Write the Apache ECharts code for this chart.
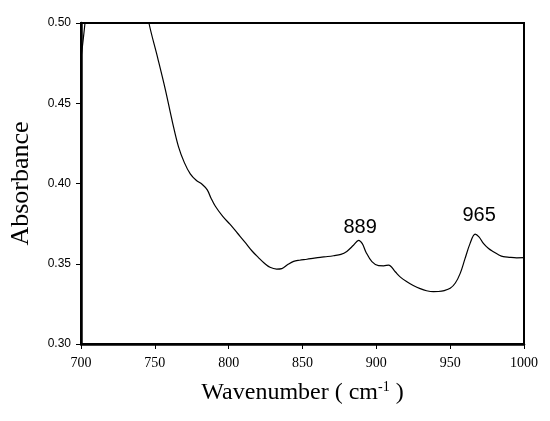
<!DOCTYPE html>
<html>
<head>
<meta charset="utf-8">
<script src="https://cdn.jsdelivr.net/npm/echarts@6/dist/echarts.min.js"></script>
<style>
  html, body { margin: 0; padding: 0; background: #fff; }
  #chart { width: 550px; height: 421px; }
</style>
</head>
<body>
<div id="chart"></div>
<script>
// spectrum (values above 0.50 are off the plot and get clipped)
var wavenumber = [700, 702.7, 705, 715, 730, 740, 746, 752, 757, 762, 766, 770, 774, 778, 782, 785.5, 788, 791, 796, 801, 806, 811, 816, 820, 824, 828, 832.5, 836, 840, 844, 848, 853, 858, 862, 867, 871, 876, 880, 884.5, 888, 890.5, 893, 897, 901.5, 905, 908.3, 912.8, 916.5, 920.7, 925, 929.7, 934, 938.7, 942, 946, 950, 953.5, 956.8, 960, 963.5, 966.9, 969.5, 972.5, 976, 979.3, 983, 986, 990, 995, 1000];
var absorbance = [0.478, 0.5, 0.525, 0.56, 0.56, 0.53, 0.5, 0.478, 0.459, 0.438, 0.423, 0.413, 0.406, 0.402, 0.3995, 0.396, 0.391, 0.3858, 0.3795, 0.3745, 0.369, 0.3635, 0.3578, 0.354, 0.3505, 0.3478, 0.3467, 0.347, 0.3495, 0.3515, 0.3522, 0.3528, 0.3535, 0.354, 0.3545, 0.355, 0.3558, 0.3577, 0.3615, 0.3646, 0.3625, 0.3572, 0.3513, 0.3488, 0.3487, 0.3492, 0.345, 0.3415, 0.3388, 0.3365, 0.3345, 0.3332, 0.3326, 0.3327, 0.3333, 0.3347, 0.338, 0.344, 0.353, 0.3627, 0.3685, 0.3668, 0.3627, 0.3595, 0.3575, 0.3555, 0.3544, 0.354, 0.3537, 0.3538];

// peak labels
var peakNames = ['889', '965'];
var peakCoords = [[889, 0.3728], [969.6, 0.3799]];

var myChart = echarts.init(document.getElementById('chart'));

var lineData = wavenumber.map(function (x, i) { return [x, absorbance[i]]; });
var marks = peakNames.map(function (n, i) {
  return { name: n, coord: peakCoords[i] };
});

var option = {
  animation: false,
  grid: {
    left: 80, right: 26, top: 23, bottom: 77,
    show: true, borderColor: '#000', borderWidth: 2
  },
  xAxis: {
    type: 'value',
    min: 700, max: 1000, interval: 50,
    name: 'Wavenumber ( cm{sup|-1} )',
    nameLocation: 'middle',
    nameGap: 36,
    nameTextStyle: {
      fontFamily: 'Liberation Serif', fontSize: 24, color: '#000',
      rich: { sup: { fontFamily: 'Liberation Serif', fontSize: 14, color: '#000', verticalAlign: 'top', padding: [0, 0, 12, 0] } }
    },
    axisLine: { lineStyle: { color: '#000', width: 2.5 } },
    axisTick: { inside: false, length: 5, lineStyle: { color: '#000', width: 1 } },
    axisLabel: {
      fontFamily: 'Liberation Serif', fontSize: 14, color: '#000', margin: 12,
      formatter: function (v) { return String(v); }
    },
    splitLine: { show: false }
  },
  yAxis: {
    type: 'value',
    min: 0.3, max: 0.5, interval: 0.05,
    name: 'Absorbance',
    nameLocation: 'middle',
    nameGap: 47,
    nameTextStyle: { fontFamily: 'Liberation Serif', fontSize: 26, color: '#000' },
    axisLine: { show: true, lineStyle: { color: '#000', width: 2.5 } },
    axisTick: { show: true, inside: false, length: 5, lineStyle: { color: '#000', width: 1 } },
    axisLabel: {
      fontFamily: 'Liberation Sans', fontSize: 12, color: '#000', margin: 10,
      formatter: function (v) { return v.toFixed(2); }
    },
    splitLine: { show: false }
  },
  series: [
    {
      type: 'line',
      data: lineData,
      smooth: 0.35,
      showSymbol: false,
      clip: true,
      lineStyle: { color: '#000', width: 1.2 },
      markPoint: {
        symbol: 'circle',
        symbolSize: 0,
        label: {
          show: true, position: 'inside', formatter: '{b}',
          fontFamily: 'Liberation Sans', fontSize: 20, color: '#000'
        },
        data: marks
      }
    }
  ]
};
myChart.setOption(option);
</script>
</body>
</html>
